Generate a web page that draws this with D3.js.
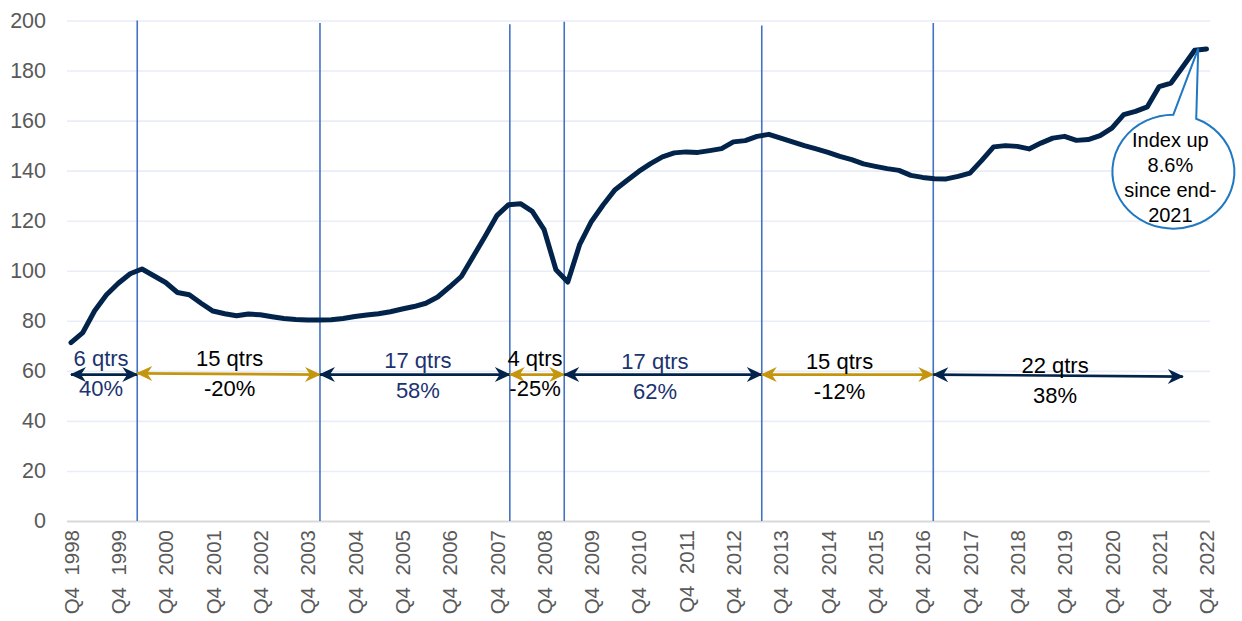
<!DOCTYPE html>
<html lang="en">
<head>
<meta charset="utf-8">
<title>House price index, quarterly</title>
<script src="https://cdn.jsdelivr.net/npm/d3@7"></script>
<style>
  html, body { margin: 0; padding: 0; background: #fff; }
  svg text { font-family: "Liberation Sans", Arial, Helvetica, sans-serif; }
</style>
</head>
<body>
<div id="chart"></div>
<script>
  // quarterly index, Q4 1998 .. Q4 2022
  const years = d3.range(1998, 2023);
  const quarters = [];
  years.forEach(function (yr) {
    ["Q1", "Q2", "Q3", "Q4"].forEach(function (q) {
      if (yr === 1998 && q !== "Q4") return;
      quarters.push(q + "  " + yr);
    });
  });

  const indexValues = [
    71.3, 75.3, 84.0, 90.4, 95.0, 98.8, 100.7, 98.0, 95.3, 91.3,
    90.4, 87.0, 83.9, 82.8, 82.0, 82.7, 82.4, 81.6, 80.9, 80.5,
    80.3, 80.3, 80.4, 80.9, 81.7, 82.3, 82.8, 83.6, 84.7, 85.7,
    87.0, 89.5, 93.5, 97.7, 105.7, 113.7, 122.0, 126.4, 126.8, 123.7,
    116.4, 100.4, 95.5, 110.4, 119.7, 126.4, 132.4, 136.1, 139.7, 142.8,
    145.5, 147.1, 147.5, 147.3, 148.0, 148.8, 151.5, 152.0, 153.7, 154.5,
    153.0, 151.5, 150.0, 148.7, 147.3, 145.7, 144.4, 142.7, 141.7, 140.8,
    140.1, 138.1, 137.3, 136.8, 136.7, 137.7, 139.0, 144.1, 149.5, 150.0,
    149.7, 148.7, 151.0, 153.0, 153.7, 152.1, 152.4, 154.0, 157.0, 162.4,
    163.7, 165.5, 173.6, 175.0, 181.5, 188.1, 188.6
  ];

  const yTicks = [0, 20, 40, 60, 80, 100, 120, 140, 160, 180, 200];

  // turning points (fractional quarter index) and how high each divider goes
  const dividerAt = [5.6, 21.05, 37.1, 41.7, 58.4, 72.9];
  const dividerTop = [200, 199, 198.5, 199.5, 198, 199];

  // cycle arrows: start, end (quarter index), value level at each end
  const cycleStart = [0, 5.6, 21.05, 37.1, 41.7, 58.4, 72.9];
  const cycleEnd = [5.6, 21.05, 37.1, 41.7, 58.4, 72.9, 94.0];
  const cycleLevelStart = [58.5, 59.0, 58.5, 58.5, 58.5, 58.5, 58.5];
  const cycleLevelEnd = [58.5, 58.5, 58.5, 58.5, 58.5, 58.5, 57.7];
  const cycleLength = ["6 qtrs", "15 qtrs", "17 qtrs", "4 qtrs", "17 qtrs", "15 qtrs", "22 qtrs"];
  const cycleChange = ["40%", "-20%", "58%", "-25%", "62%", "-12%", "38%"];
  const cycleRising = [true, false, true, false, true, false, true];

  const calloutLines = ["Index up", "8.6%", "since end-", "2021"];

  const W = 1242, H = 621;
  const left = 67, right = 1210;

  // small nudges of the cycle labels (px), as placed in the original
  const labelNudgeX = [-3, 1, 3, -2, -8, -8, -3];
  const labelNudgeY = [0, 0, 2, 0, 3, 3, 6];

  const navy = "#02234a";
  const gold = "#c4960f";
  const textNavy = "#1b3370";

  const svg = d3.select("#chart").append("svg")
    .attr("width", W)
    .attr("height", H);

  const x = d3.scaleLinear().domain([0, quarters.length - 1]).range([71, 1206.5]);
  const y = d3.scaleLinear().domain([0, 200]).range([521, 20.5]);

  // gridlines + y labels
  const yAxis = d3.axisLeft(y)
    .tickValues(yTicks)
    .tickSize(-(right - left))
    .tickPadding(21)
    .tickFormat(d3.format("d"));

  const gy = svg.append("g")
    .attr("transform", "translate(" + left + ",0)")
    .call(yAxis);
  gy.select(".domain").remove();
  gy.selectAll(".tick line")
    .attr("stroke", function (d) { return d === 0 ? "#d9d9d9" : "#e9edf7"; })
    .attr("stroke-width", function (d) { return d === 0 ? 2 : 1.6; });
  gy.selectAll(".tick text")
    .style("font-size", "21.5px")
    .attr("fill", "#595959");

  // x labels, every 4th quarter
  const xAxis = d3.axisBottom(x)
    .tickValues(d3.range(0, quarters.length, 4))
    .tickSize(0)
    .tickFormat(function (i) { return quarters[i]; });

  const gx = svg.append("g")
    .attr("transform", "translate(0," + 521 + ")")
    .call(xAxis);
  gx.select(".domain").remove();
  gx.selectAll(".tick text")
    .attr("transform", "rotate(-90)")
    .attr("x", -9)
    .attr("y", 0)
    .attr("dy", "0.35em")
    .attr("text-anchor", "end")
    .style("white-space", "pre")
    .style("font-size", "20.5px")
    .attr("fill", "#595959");

  // dividers
  svg.selectAll(".divider")
    .data(dividerAt)
    .enter()
    .append("line")
    .attr("class", "divider")
    .attr("x1", function (d) { return x(d); })
    .attr("x2", function (d) { return x(d); })
    .attr("y1", function (d, i) { return y(dividerTop[i]); })
    .attr("y2", y(0))
    .attr("stroke", "#4472c4")
    .attr("stroke-width", 1.6);

  // index line
  const line = d3.line()
    .x(function (d, i) { return x(i); })
    .y(function (d) { return y(d); });

  svg.append("path")
    .datum(indexValues)
    .attr("d", line)
    .attr("fill", "none")
    .attr("stroke", navy)
    .attr("stroke-width", 5)
    .attr("stroke-linejoin", "round")
    .attr("stroke-linecap", "round");

  // arrowheads
  const defs = svg.append("defs");
  [["head-navy", navy], ["head-gold", gold]].forEach(function (m) {
    defs.append("marker")
      .attr("id", m[0])
      .attr("viewBox", "-16 -8 18 16")
      .attr("markerUnits", "userSpaceOnUse")
      .attr("markerWidth", 18)
      .attr("markerHeight", 16)
      .attr("refX", 0)
      .attr("refY", 0)
      .attr("orient", "auto-start-reverse")
      .append("path")
      .attr("d", "M1,0 L-15,-7.5 L-10,0 L-15,7.5 Z")
      .attr("fill", m[1]);
  });

  const cycles = cycleStart.map(function (s, i) {
    return {
      s: s, e: cycleEnd[i],
      v0: cycleLevelStart[i], v1: cycleLevelEnd[i],
      len: cycleLength[i], chg: cycleChange[i], up: cycleRising[i],
      nx: labelNudgeX[i], ny: labelNudgeY[i]
    };
  });

  const cg = svg.selectAll(".cycle")
    .data(cycles)
    .enter()
    .append("g")
    .attr("class", "cycle");

  cg.append("line")
    .attr("x1", function (d) { return x(d.s); })
    .attr("x2", function (d) { return x(d.e); })
    .attr("y1", function (d) { return y(d.v0); })
    .attr("y2", function (d) { return y(d.v1); })
    .attr("stroke", function (d) { return d.up ? navy : gold; })
    .attr("stroke-width", 2.6)
    .attr("marker-start", function (d) { return d.up ? "url(#head-navy)" : "url(#head-gold)"; })
    .attr("marker-end", function (d) { return d.up ? "url(#head-navy)" : "url(#head-gold)"; });

  function labelColor(d, i) {
    // later rising cycle (22 qtrs) is labelled in black
    if (!d.up || i === 6) return "#000";
    return textNavy;
  }

  cg.append("text")
    .attr("x", function (d) { return x((d.s + d.e) / 2) + d.nx; })
    .attr("y", function (d) { return y((d.v0 + d.v1) / 2) - 16 + d.ny; })
    .attr("dy", "0.35em")
    .attr("text-anchor", "middle")
    .style("font-size", "22px")
    .attr("fill", labelColor)
    .text(function (d) { return d.len; });

  cg.append("text")
    .attr("x", function (d) { return x((d.s + d.e) / 2) + d.nx; })
    .attr("y", function (d) { return y((d.v0 + d.v1) / 2) + 14 + d.ny; })
    .attr("dy", "0.35em")
    .attr("text-anchor", "middle")
    .style("font-size", "22px")
    .attr("fill", labelColor)
    .text(function (d) { return d.chg; });

  // callout bubble pointing at the latest quarter
  const tip = [x(95.3), y(188.8)];
  const cx = x(93.2), cy = y(139.6), rx = 61, ry = 57;
  function onEllipse(deg) {
    const t = deg * Math.PI / 180;
    return [cx + rx * Math.cos(t), cy + ry * Math.sin(t)];
  }
  const p1 = onEllipse(-90), p2 = onEllipse(-68);
  svg.append("path")
    .attr("d", "M" + p1 + " L" + tip + " L" + p2 +
      " A" + rx + "," + ry + " 0 1 1 " + p1 + " Z")
    .attr("fill", "#fff")
    .attr("stroke", "#1f78c1")
    .attr("stroke-width", 2);

  svg.append("g")
    .selectAll("text")
    .data(calloutLines)
    .enter()
    .append("text")
    .attr("x", cx - 3)
    .attr("y", function (d, i) { return cy - 32 + i * 25; })
    .attr("dy", "0.35em")
    .attr("text-anchor", "middle")
    .style("font-size", "20px")
    .attr("fill", "#000")
    .text(function (d) { return d; });
</script>
</body>
</html>
